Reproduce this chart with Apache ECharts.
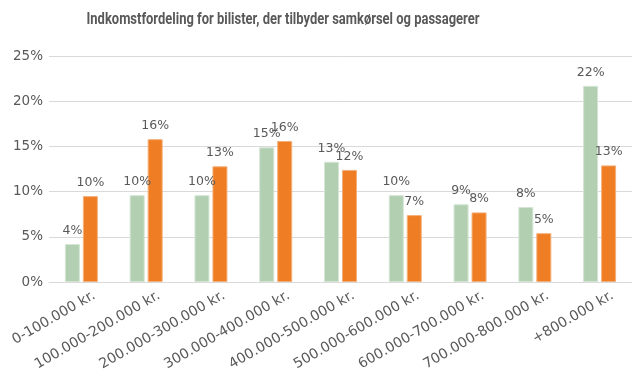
<!DOCTYPE html>
<html>
<head>
<meta charset="utf-8">
<script src="https://cdn.jsdelivr.net/npm/echarts@6/dist/echarts.min.js"></script>
<style>
  html, body { margin: 0; padding: 0; background: #ffffff; }
  #chart { width: 632px; height: 380px; }
</style>
</head>
<body>
<div id="chart"></div>
<script>
// Income brackets
var categories = [
  '0-100.000 kr.', '100.000-200.000 kr.', '200.000-300.000 kr.',
  '300.000-400.000 kr.', '400.000-500.000 kr.', '500.000-600.000 kr.',
  '600.000-700.000 kr.', '700.000-800.000 kr.', '+800.000 kr.'
];
// Share (%) of drivers offering ride sharing
var drivers = [4.2, 9.6, 9.6, 14.9, 13.3, 9.6, 8.6, 8.3, 21.7];
// Share (%) of passengers
var passengers = [9.5, 15.8, 12.8, 15.6, 12.4, 7.4, 7.7, 5.4, 12.9];

var chartTitle = 'Indkomstfordeling for bilister, der tilbyder samkørsel og passagerer';

var textColor = '#595959';
var fontFamily = '"DejaVu Sans", "Noto Sans", sans-serif';

function barSeries(name, values, color, edge) {
  return {
    name: name,
    type: 'bar',
    data: values,
    barWidth: 15,
    barGap: '20%',
    itemStyle: { color: color, borderColor: edge, borderWidth: 1 },
    label: {
      show: true,
      position: 'top',
      distance: 7,
      color: textColor,
      fontFamily: fontFamily,
      fontSize: 12.5,
      formatter: function (p) { return Math.round(p.value) + '%'; }
    }
  };
}

var chart = echarts.init(document.getElementById('chart'), null, { renderer: 'canvas' });
chart.setOption({
  animation: false,
  backgroundColor: '#ffffff',
  // Condensed bold title: a horizontally squeezed text element
  graphic: [{
    type: 'text',
    x: 283,
    y: 20,
    scaleX: 0.81,
    style: {
      text: chartTitle,
      fill: textColor,
      font: 'bold 16px Roboto, sans-serif',
      textAlign: 'center',
      textVerticalAlign: 'middle'
    }
  }],
  grid: { left: 49, right: 0, top: 56, bottom: 98, containLabel: false },
  xAxis: {
    type: 'category',
    data: categories,
    axisLine: { show: true, lineStyle: { color: '#d9d9d9', width: 1 } },
    axisTick: { show: false },
    axisLabel: {
      rotate: 30,
      interval: 0,
      margin: 20,
      padding: [0, -15, 0, 0],
      color: textColor,
      fontFamily: fontFamily,
      fontSize: 14
    }
  },
  yAxis: {
    type: 'value',
    min: 0,
    max: 25,
    interval: 5,
    axisLine: { show: false },
    axisTick: { show: false },
    splitLine: { lineStyle: { color: '#d9d9d9', width: 1 } },
    axisLabel: {
      margin: 6,
      padding: [0, 0, 6, 0],
      color: textColor,
      fontFamily: fontFamily,
      fontSize: 13.5,
      formatter: '{value}%'
    }
  },
  series: [
    barSeries('Bilister', drivers, '#b2cfb2', '#d4e5d4'),
    barSeries('Passagerer', passengers, '#ee7d24', '#f4b07a')
  ]
});
</script>
</body>
</html>
